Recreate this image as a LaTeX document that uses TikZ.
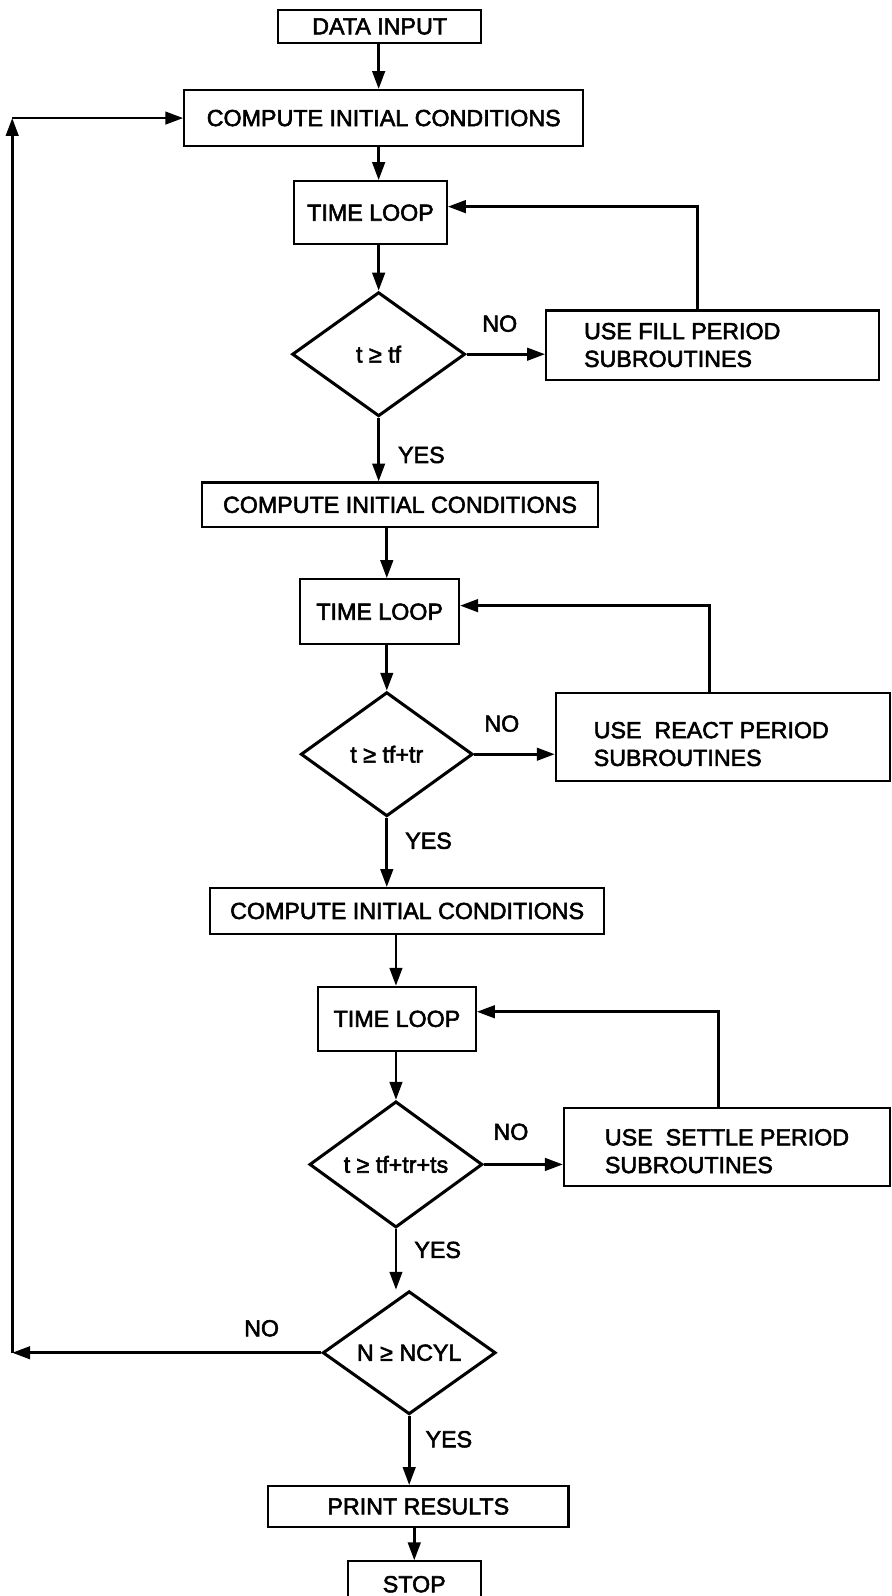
\documentclass[tikz,border=0pt]{standalone}
\usepackage{fontspec}
\setmainfont{Liberation Sans}[FakeBold=2.4]
\usetikzlibrary{arrows.meta,shapes.geometric,calc}
\begin{document}
\begin{tikzpicture}[x=0.02cm,y=-0.02cm,
  font=\fontsize{13}{15}\selectfont,
  box/.style={draw,line width=1.2pt,inner sep=0pt,align=center},
  decide/.style={draw,diamond,line width=1.7pt,inner sep=0pt},
  arr/.style={line width=1.5pt,-{Triangle[length=10pt,width=7pt]}},
  lbl/.style={inner sep=0pt},
  subtext/.style={inner sep=0pt,anchor=west,align=left,font=\fontsize{13}{15.5}\selectfont}]
\useasboundingbox (0,0) rectangle (876,1568);

% main column
\node[box,minimum width=3.98cm,minimum height=0.66cm] (data) at (373,26) {DATA INPUT};
\node[box,minimum width=7.84cm,minimum height=1.1cm] (comp1) at (377,116) {COMPUTE INITIAL CONDITIONS};
\node[box,minimum width=3.0cm,minimum height=1.24cm] (tl1) at (364,209) {TIME LOOP};
\node[decide,minimum width=3.4cm,minimum height=2.44cm] (d1) at (372,348) {t ≥ tf};
\node[box,minimum width=7.78cm,minimum height=0.88cm] (comp2) at (393,496) {COMPUTE INITIAL CONDITIONS};
\node[box,minimum width=3.12cm,minimum height=1.28cm] (tl2) at (373,601) {TIME LOOP};
\node[decide,minimum width=3.38cm,minimum height=2.44cm] (d2) at (380,741) {t ≥ tf+tr};
\node[box,minimum width=7.74cm,minimum height=0.9cm] (comp3) at (400,895) {COMPUTE INITIAL CONDITIONS};
\node[box,minimum width=3.1cm,minimum height=1.26cm] (tl3) at (390,1001) {TIME LOOP};
\node[decide,minimum width=3.4cm,minimum height=2.48cm] (d3) at (389,1144) {t ≥ tf+tr+ts};
\node[decide,minimum width=3.4cm,minimum height=2.42cm] (d4) at (402,1329) {N ≥ NCYL};
\node[box,minimum width=5.9cm,minimum height=0.8cm] (print) at (411,1480) {PRINT RESULTS};
\node[box,minimum width=2.62cm,minimum height=1.32cm] (stop) at (407,1567) {};
\node[lbl,anchor=north] (stoptext) at (stop.north) {\rule{0pt}{0.62cm}STOP};

% period subroutine boxes, text set flush left inside
\node[box,minimum width=6.54cm,minimum height=1.36cm] (fill) at (700,339) {};
\node[subtext] (filltext) at ([xshift=0.76cm]fill.west) {USE FILL PERIOD\\SUBROUTINES};
\node[box,minimum width=6.56cm,minimum height=1.72cm] (react) at (710,724) {};
\node[subtext] (reacttext) at ([xshift=0.76cm,yshift=-0.14cm]react.west) {USE\ \ REACT PERIOD\\SUBROUTINES};
\node[box,minimum width=6.4cm,minimum height=1.54cm] (settle) at (714,1127) {};
\node[subtext] (settletext) at ([xshift=0.82cm,yshift=-0.08cm]settle.west) {USE\ \ SETTLE PERIOD\\SUBROUTINES};

% flow downwards
\draw[arr] (data.south -| d1.north) -- (comp1.north -| d1.north);
\draw[arr] (comp1.south -| d1.north) -- (tl1.north -| d1.north);
\draw[arr] (tl1.south -| d1.north) -- (d1.north);
\draw[arr] (d1.south) -- (comp2.north -| d1.south);
\draw[arr] (comp2.south -| d2.north) -- (tl2.north -| d2.north);
\draw[arr] (tl2.south -| d2.north) -- (d2.north);
\draw[arr] (d2.south) -- (comp3.north -| d2.south);
\draw[arr] (comp3.south -| d3.north) -- (tl3.north -| d3.north);
\draw[arr] (tl3.south -| d3.north) -- (d3.north);
\draw[arr] (d3.south) -- (d3.south |- d4.north);
\draw[arr] (d4.south) -- (print.north -| d4.south);
\draw[arr] (print.south -| stop.north) -- (stop.north);

% NO branches to the subroutines and back to the time loops
\draw[arr] (d1.east) -- (d1.east -| fill.west);
\draw[arr] ([xshift=-0.29cm]fill.north) |- ([yshift=0.12cm]tl1.east);
\draw[arr] (d2.east) -- (d2.east -| react.west);
\draw[arr] ([xshift=-0.26cm]react.north) |- ([yshift=0.12cm]tl2.east);
\draw[arr] (d3.east) -- (d3.east -| settle.west);
\draw[arr] ([xshift=-0.16cm]settle.north) |- ([yshift=0.14cm]tl3.east);

% outer cycle loop
\coordinate (lx) at (12,0);
\coordinate (lb) at (d4.west -| lx);
\coordinate (lt) at (comp1.west -| lx);
\draw[arr] (d4.west) -- (lb);
\draw[arr] (lb) -- (lt);
\draw[arr] (lt) -- (comp1.west);

% branch labels
\node[lbl] (no1) at (491,318) {NO};
\node[lbl] (yes1) at (414,447) {YES};
\node[lbl] (no2) at (493,711) {NO};
\node[lbl] (yes2) at (421,826) {YES};
\node[lbl] (no3) at (502,1112) {NO};
\node[lbl] (yes3) at (430,1228) {YES};
\node[lbl] (no4) at (257,1305) {NO};
\node[lbl] (yes4) at (441,1414) {YES};
\end{tikzpicture}
\end{document}
